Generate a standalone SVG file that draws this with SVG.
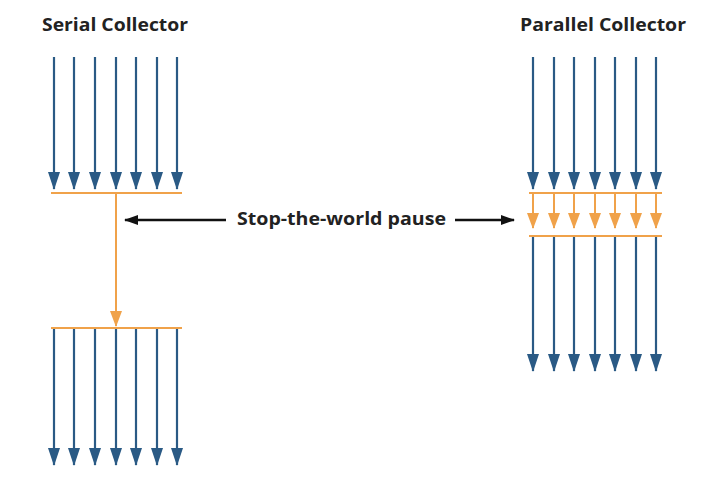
<svg xmlns="http://www.w3.org/2000/svg" width="715" height="487" viewBox="0 0 715 487">
<style>
.b{stroke:#2a5a85;stroke-width:2.2;marker-end:url(#bh)}
.o{stroke:#f0a24a;stroke-width:2.2}
.oa{stroke:#f0a24a;stroke-width:2;marker-end:url(#oh)}
.k{stroke:#111;stroke-width:2.5;marker-end:url(#kh)}
text{font-family:"Open Sans","Liberation Sans",sans-serif;font-weight:bold;fill:#222}
</style>
<defs>
<marker id="bh" markerUnits="userSpaceOnUse" markerWidth="18" markerHeight="14" refX="17" refY="6" orient="auto"><path d="M0,0L18,6L0,12Z" fill="#2a5a85"/></marker>
<marker id="oh" markerUnits="userSpaceOnUse" markerWidth="16" markerHeight="14" refX="15" refY="6" orient="auto"><path d="M0,0L16,6L0,12Z" fill="#f0a24a"/></marker>
<marker id="kh" markerUnits="userSpaceOnUse" markerWidth="14" markerHeight="12" refX="13" refY="5" orient="auto"><path d="M0,0L14,5L0,10Z" fill="#111"/></marker>
</defs>
<rect width="715" height="487" fill="#fff"/>
<text x="42" y="31" font-size="18" textLength="146" lengthAdjust="spacingAndGlyphs">Serial Collector</text>
<text x="520" y="31" font-size="18" textLength="166" lengthAdjust="spacingAndGlyphs">Parallel Collector</text>
<g id="serial">
<g id="serial-top">
<line class="b" x1="54" y1="57" x2="54" y2="189"/><line class="b" x1="74" y1="57" x2="74" y2="189"/><line class="b" x1="95" y1="57" x2="95" y2="189"/><line class="b" x1="116" y1="57" x2="116" y2="189"/><line class="b" x1="136" y1="57" x2="136" y2="189"/><line class="b" x1="157" y1="57" x2="157" y2="189"/><line class="b" x1="177" y1="57" x2="177" y2="189"/>
</g>
<line class="o" x1="51" y1="193" x2="182" y2="193"/>
<line class="oa" x1="116" y1="193" x2="116" y2="326"/>
<line class="o" x1="51" y1="328" x2="182" y2="328"/>
<g id="serial-bottom">
<line class="b" x1="54" y1="329" x2="54" y2="465"/><line class="b" x1="74" y1="329" x2="74" y2="465"/><line class="b" x1="95" y1="329" x2="95" y2="465"/><line class="b" x1="116" y1="329" x2="116" y2="465"/><line class="b" x1="136" y1="329" x2="136" y2="465"/><line class="b" x1="157" y1="329" x2="157" y2="465"/><line class="b" x1="177" y1="329" x2="177" y2="465"/>
</g>
</g>
<g id="parallel">
<g id="parallel-top">
<line class="b" x1="533" y1="57" x2="533" y2="189"/><line class="b" x1="554" y1="57" x2="554" y2="189"/><line class="b" x1="574" y1="57" x2="574" y2="189"/><line class="b" x1="595" y1="57" x2="595" y2="189"/><line class="b" x1="615" y1="57" x2="615" y2="189"/><line class="b" x1="636" y1="57" x2="636" y2="189"/><line class="b" x1="656" y1="57" x2="656" y2="189"/>
</g>
<line class="o" x1="529" y1="193" x2="662" y2="193"/>
<g id="parallel-mid">
<line class="oa" x1="533" y1="193" x2="533" y2="228"/><line class="oa" x1="554" y1="193" x2="554" y2="228"/><line class="oa" x1="574" y1="193" x2="574" y2="228"/><line class="oa" x1="595" y1="193" x2="595" y2="228"/><line class="oa" x1="615" y1="193" x2="615" y2="228"/><line class="oa" x1="636" y1="193" x2="636" y2="228"/><line class="oa" x1="656" y1="193" x2="656" y2="228"/>
</g>
<line class="o" x1="529" y1="236" x2="662" y2="236"/>
<g id="parallel-bottom">
<line class="b" x1="533" y1="237" x2="533" y2="371"/><line class="b" x1="554" y1="237" x2="554" y2="371"/><line class="b" x1="574" y1="237" x2="574" y2="371"/><line class="b" x1="595" y1="237" x2="595" y2="371"/><line class="b" x1="615" y1="237" x2="615" y2="371"/><line class="b" x1="636" y1="237" x2="636" y2="371"/><line class="b" x1="656" y1="237" x2="656" y2="371"/>
</g>
</g>
<g id="label">
<text x="237" y="225" font-size="18" textLength="209" lengthAdjust="spacingAndGlyphs">Stop-the-world pause</text>
</g>
<g id="connectors">
<line class="k" x1="226" y1="220" x2="125" y2="220"/>
<line class="k" x1="455" y1="220" x2="514" y2="220"/>
</g>
</svg>
